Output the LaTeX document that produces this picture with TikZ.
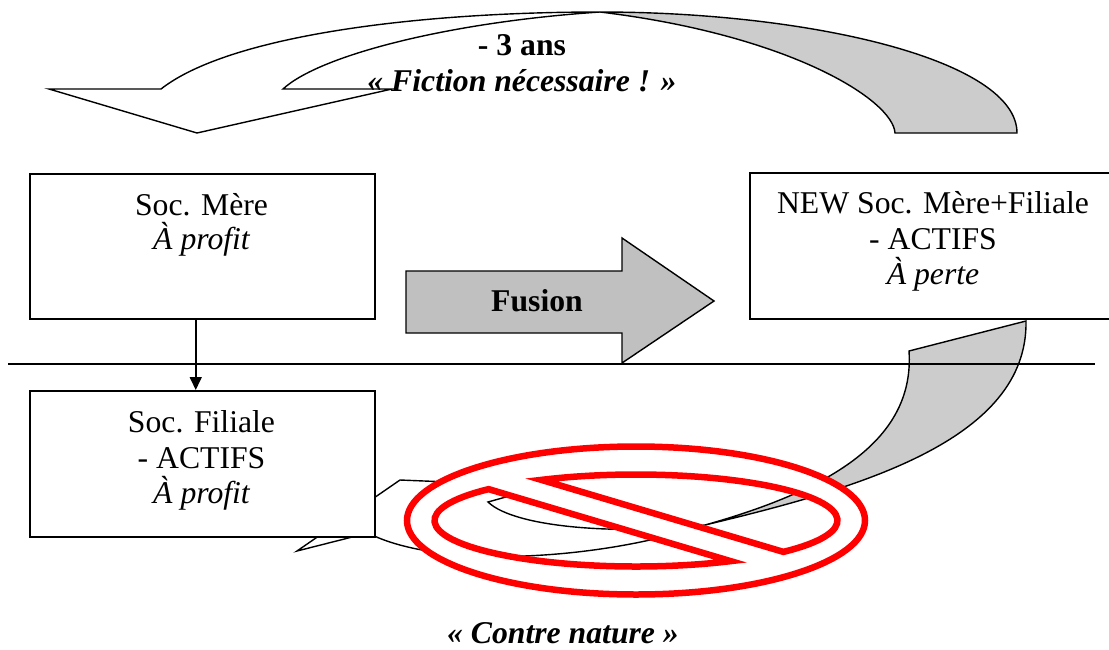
\documentclass[tikz,border=0pt]{standalone}
\usepackage{fontspec}
\setmainfont{Liberation Serif}
\usetikzlibrary{arrows.meta,calc}
\definecolor{ribbongray}{HTML}{CCCCCC}
\definecolor{fusiongray}{HTML}{C0C0C0}
\definecolor{nored}{HTML}{FF0000}
\begin{document}
\begin{tikzpicture}[x=1pt,y=-1pt,
  txt/.style={anchor=base,inner sep=0pt,font=\fontsize{31.7}{36}\selectfont},
  txtb/.style={txt,font=\fontsize{31.7}{36}\selectfont\bfseries},
  txtbi/.style={txt,font=\fontsize{31.7}{36}\selectfont\bfseries\itshape},
  boxst/.style={draw,line width=1.5pt,fill=white,inner sep=0pt,anchor=north west},
  outl/.style={draw=black,line width=1.4pt,line join=miter},
  backface/.style={outl,fill=ribbongray},
  frontface/.style={outl,fill=white},
  nosign/.style={draw=nored,line width=6.5pt,fill=white,even odd rule,line join=miter},
  conn/.style={line width=1.6pt,-{Triangle[width=12pt,length=13pt]}}]
\useasboundingbox (0,0) rectangle (1109,649);

% top curved arrow (back face, then front face)
\path[backface] (1017,133) .. controls (1017,60) and (810,12) .. (600,12)
  .. controls (790,35) and (893,100) .. (895,133) -- cycle;
\path[frontface] (600,12) .. controls (420,12) and (230,35) .. (161,89)
  -- (49,89) -- (197,133) -- (392,89) -- (283,89)
  .. controls (320,55) and (450,22) .. (600,12) -- cycle;

% bottom curved arrow (back face, then front face)
\path[backface] (909,351) .. controls (915,440) and (830,490) .. (705,525)
  .. controls (860,488) and (1028,440) .. (1026,321) -- cycle;
\path[frontface] (297,551) -- (400,480) -- (545,486) -- (488,502)
  .. controls (515,528) and (620,535) .. (705,525)
  .. controls (600,560) and (440,570) .. (368,533) -- cycle;

% Fusion arrow
\path[outl,fill=fusiongray] (406,271) -- (622,271) -- (622,238) -- (714,301)
  -- (622,363) -- (622,333) -- (406,333) -- cycle;

% boxes
\node[boxst,minimum width=345pt,minimum height=145pt] (mere) at (29,173) {};
\node[boxst,minimum width=345pt,minimum height=146pt] (filiale) at (29,390) {};
\node[boxst,minimum width=370pt,minimum height=146pt] (new) at (749,172) {};

% horizontal separator
\coordinate (hl) at (8,364);
\coordinate (hr) at (1095,364);
\draw[line width=1.4pt] (hl) -- (hr);

% connector
\draw[conn] ([xshift=-6.5pt]mere.south) -- ([xshift=-6.5pt]filiale.north);

% prohibition sign
\coordinate (c) at (636,520.5);
\path[nosign] (c) ellipse [x radius=229, y radius=74]
  ($(c)+(223:201.5 and 46)$) arc [start angle=223, end angle=62, x radius=201.5, y radius=46] -- cycle
  ($(c)+(43:201.5 and 46)$) arc [start angle=43, end angle=-118, x radius=201.5, y radius=46] -- cycle;

% texts
\node[txt] (mere1) at (201.5,215) {Soc. Mère};
\node[txt] (mere2) at (201.5,249) {\itshape À profit};
\node[txt] (fil1) at (201.5,432) {Soc. Filiale};
\node[txt] (fil2) at (201.5,468) {- ACTIFS};
\node[txt] (fil3) at (201.5,503) {\itshape À profit};
\node[txt] (new1) at (933,213) {NEW Soc. Mère+Filiale};
\node[txt] (new2) at (933,249) {- ACTIFS};
\node[txt] (new3) at (933,284) {\itshape À perte};
\node[txtb] (ans) at (522,55) {- 3 ans};
\node[txtbi] (fiction) at (522,91) {« Fiction nécessaire ! »};
\node[txtb] (fusion) at (537,311) {Fusion};
\node[txtbi] (contre) at (563,643) {« Contre nature »};
\end{tikzpicture}
\end{document}
